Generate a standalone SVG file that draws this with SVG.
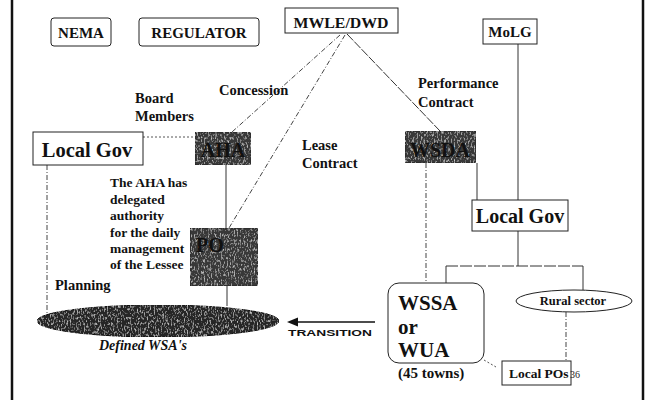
<svg xmlns="http://www.w3.org/2000/svg" width="647" height="400" viewBox="0 0 647 400">
<defs>
<style>
.box{fill:#fff;stroke:#222;stroke-width:1}
.dark{fill:#383838;stroke:#222;stroke-width:1}
.t{font-family:'Liberation Serif','DejaVu Serif',serif;font-weight:bold;fill:#111}
.lbl{font-family:'Liberation Serif','DejaVu Serif',serif;font-weight:bold;fill:#111;font-size:14.5px}
.c{fill:none;stroke:#333;stroke-width:1}
.dash{fill:none;stroke:#444;stroke-width:1;stroke-dasharray:5 2 1 2}
.dot{fill:none;stroke:#555;stroke-width:1;stroke-dasharray:2 2}
</style>
<filter id="grain" x="0" y="0" width="100%" height="100%">
<feTurbulence type="fractalNoise" baseFrequency="0.7 0.35" numOctaves="2" seed="4" result="n"/>
<feColorMatrix in="n" type="matrix" values="0 0 0 0 0.7  0 0 0 0 0.7  0 0 0 0 0.7  2.4 0 0 0 -1.25" result="spots"/>
<feComposite in="spots" in2="SourceGraphic" operator="atop"/>
</filter>
</defs>
<rect width="647" height="400" fill="#fff"/>
<line x1="12" y1="0" x2="12" y2="400" stroke="#111" stroke-width="2.5"/>
<line x1="643" y1="0" x2="643" y2="400" stroke="#111" stroke-width="2.5"/>

<g id="connectors">
<line class="dot" x1="143" y1="137" x2="195" y2="137"/>
<line class="dash" x1="47" y1="165" x2="47" y2="314"/>
<line class="c" x1="226" y1="165" x2="226" y2="228"/>
<line class="c" x1="227" y1="286" x2="227" y2="306"/>
<line class="dash" x1="340" y1="35" x2="232" y2="132"/>
<line class="dash" x1="345" y1="35" x2="229" y2="228"/>
<line class="c" x1="347" y1="34" x2="440" y2="131" stroke-dasharray="9 1.5"/>
<line class="dash" x1="426" y1="163" x2="426" y2="283"/>
<line class="c" x1="477" y1="163" x2="477" y2="200"/>
<line class="c" x1="518" y1="44" x2="518" y2="200"/>
<line class="c" x1="518" y1="231" x2="518" y2="266"/>
<line class="c" x1="446" y1="266" x2="583" y2="266" stroke-dasharray="12 2"/>
<line class="c" x1="446" y1="266" x2="446" y2="283"/>
<line class="c" x1="583" y1="266" x2="583" y2="290"/>
<line class="dash" x1="566" y1="312" x2="566" y2="361"/>
<line class="dot" x1="484" y1="360" x2="496" y2="367"/>
<line x1="375" y1="322" x2="296" y2="322" stroke="#111" stroke-width="1.6"/>
<polygon points="287,322 298,317.5 298,326.5" fill="#111"/>
<text x="288" y="336" font-family="'Liberation Sans',Arial,sans-serif" font-weight="bold" font-size="9.5" textLength="84" lengthAdjust="spacingAndGlyphs" fill="#111">TRANSITION</text>
</g>

<g id="nema"><rect class="box" x="51" y="18" width="60" height="28" rx="3"/><text class="t" x="81" y="38" font-size="15" text-anchor="middle">NEMA</text></g>
<g id="regulator"><rect class="box" x="139" y="18" width="120" height="28" rx="3"/><text class="t" x="199" y="38" font-size="15" text-anchor="middle">REGULATOR</text></g>
<g id="mwle"><rect class="box" x="285" y="8" width="113" height="25"/><text class="t" x="341" y="28" font-size="15" text-anchor="middle" textLength="95" lengthAdjust="spacingAndGlyphs">MWLE/DWD</text></g>
<g id="molg"><rect class="box" x="483" y="19" width="54" height="25"/><text class="t" x="510" y="37" font-size="15" text-anchor="middle">MoLG</text></g>
<g id="localgov-left"><rect class="box" x="33" y="132" width="110" height="33"/><text class="t" x="87" y="157" font-size="20.5" text-anchor="middle">Local Gov</text></g>
<g id="aha"><rect class="dark" x="195" y="132" width="56" height="33" filter="url(#grain)"/><text class="t" x="223" y="157" font-size="20" text-anchor="middle" fill="#0a0a0a">AHA</text></g>
<g id="wsda"><rect class="dark" x="405" y="131" width="71" height="32" filter="url(#grain)"/><text class="t" x="440" y="157" font-size="20" text-anchor="middle" fill="#0a0a0a">WSDA</text></g>
<g id="po"><rect class="dark" x="190" y="228" width="68" height="58" filter="url(#grain)"/><text class="t" x="196" y="252" font-size="20" fill="#0a0a0a">PO</text></g>
<g id="wsa"><ellipse cx="158" cy="321" rx="121" ry="16" fill="#262626" stroke="#111" filter="url(#grain)"/><text x="143" y="350" font-family="'Liberation Serif','DejaVu Serif',serif" font-weight="bold" font-style="italic" font-size="14" text-anchor="middle" fill="#111">Defined WSA's</text></g>
<g id="localgov-right"><rect class="box" x="472" y="200" width="96" height="31"/><text class="t" x="520" y="223" font-size="20" text-anchor="middle">Local Gov</text></g>
<g id="wssa"><rect class="box" x="388" y="283" width="96" height="80" rx="11"/><text class="t" x="398" y="310" font-size="21">WSSA</text><text class="t" x="398" y="334" font-size="21">or</text><text class="t" x="398" y="357" font-size="21">WUA</text><text class="t" x="398" y="378" font-size="15">(45 towns)</text></g>
<g id="rural"><ellipse cx="574" cy="301" rx="58" ry="11" fill="#fff" stroke="#222"/><text class="t" x="573" y="305" font-size="12.5" text-anchor="middle">Rural sector</text></g>
<g id="localpos"><rect class="box" x="502" y="361" width="69" height="24"/><text class="t" x="509" y="378" font-size="13.5">Local POs</text><text x="570" y="378" font-family="'Liberation Serif',serif" font-size="10" fill="#222">36</text></g>

<g id="labels">
<text class="lbl" x="135" y="103">Board</text>
<text class="lbl" x="135" y="121">Members</text>
<text class="lbl" x="219" y="95">Concession</text>
<text class="lbl" x="302" y="150">Lease</text>
<text class="lbl" x="302" y="168">Contract</text>
<text class="lbl" x="418" y="88">Performance</text>
<text class="lbl" x="418" y="107">Contract</text>
<text class="lbl" x="55" y="290" font-size="15">Planning</text>
<text class="t" font-size="13.5"><tspan x="110" y="187">The AHA has</tspan><tspan x="110" y="204">delegated</tspan><tspan x="110" y="220">authority</tspan><tspan x="110" y="237">for the daily</tspan><tspan x="110" y="253">management</tspan><tspan x="110" y="269">of the Lessee</tspan></text>
</g>
</svg>
